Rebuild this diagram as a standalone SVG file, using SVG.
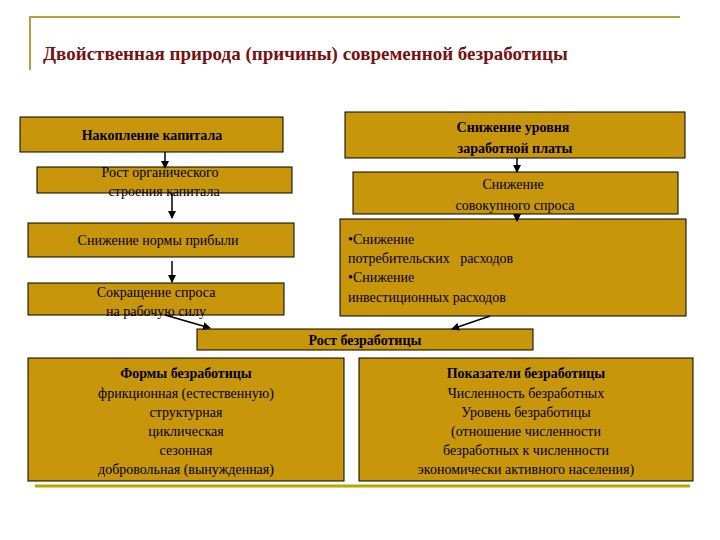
<svg xmlns="http://www.w3.org/2000/svg" width="720" height="540" viewBox="0 0 720 540">
<defs>
<style>
.b{fill:#C8960A;stroke:#000;stroke-width:1}
.t{font-family:"Liberation Serif",serif;font-size:14px;fill:#000;text-anchor:middle}
.tl{font-family:"Liberation Serif",serif;font-size:14px;fill:#000}
.bd{font-weight:bold}
.c{stroke:#000;stroke-width:1.5;fill:none;marker-end:url(#a)}
</style>
<marker id="a" markerWidth="8" markerHeight="8" refX="7" refY="4" orient="auto" markerUnits="userSpaceOnUse"><path d="M0,0L8,4L0,8Z" fill="#000"/></marker>
</defs>
<rect width="720" height="540" fill="#fff"/>
<path d="M30,70V17H680" stroke="#B8A040" stroke-width="2" fill="none"/>
<path d="M35,486H690" stroke="#B8A800" stroke-width="3" fill="none"/>
<text x="43" y="60" font-family="Liberation Serif,serif" font-size="19" font-weight="bold" fill="#7A1010">Двойственная природа (причины) современной безработицы</text>
<g id="n1"><rect class="b" x="20" y="117" width="263" height="35"/><text class="t bd" x="152" y="140">Накопление капитала</text></g>
<g id="n2"><rect class="b" x="345" y="112" width="340" height="46"/><text class="t bd" x="513" y="132">Снижение уровня</text><text class="t bd" x="515" y="153">заработной платы</text></g>
<g id="n3"><rect class="b" x="37" y="167" width="255" height="26"/><text class="t" x="160" y="177">Рост органического</text><text class="t" x="164" y="196">строения капитала</text></g>
<g id="n4"><rect class="b" x="353" y="172" width="325" height="42"/><text class="t" x="513" y="189">Снижение</text><text class="t" x="515" y="210">совокупного спроса</text></g>
<g id="n5"><rect class="b" x="28" y="223" width="266" height="34"/><text class="t" x="158" y="245">Снижение нормы прибыли</text></g>
<g id="n6"><rect class="b" x="340" y="219" width="346" height="97"/><text class="tl" x="348" y="244">•Снижение</text><text class="tl" x="348" y="263" xml:space="preserve">потребительских   расходов</text><text class="tl" x="348" y="282">•Снижение</text><text class="tl" x="348" y="302">инвестиционных расходов</text></g>
<g id="n7"><rect class="b" x="28" y="283" width="256" height="32"/><text class="t" x="156" y="297">Сокращение спроса</text><text class="t" x="156" y="316">на рабочую силу</text></g>
<g id="n8"><rect class="b" x="197" y="329" width="336" height="21"/><text class="t bd" x="365" y="345">Рост безработицы</text></g>
<g id="n9"><rect class="b" x="28" y="358" width="316" height="123"/><text class="t" x="186" y="378"><tspan class="bd">Формы безработицы</tspan></text><text class="t" x="186" y="398">фрикционная (естественную)</text><text class="t" x="186" y="417">структурная</text><text class="t" x="186" y="436">циклическая</text><text class="t" x="186" y="455">сезонная</text><text class="t" x="186" y="474">добровольная (вынужденная)</text></g>
<g id="n10"><rect class="b" x="359" y="358" width="334" height="123"/><text class="t bd" x="526" y="378">Показатели безработицы</text><text class="t" x="526" y="398">Численность безработных</text><text class="t" x="526" y="417">Уровень безработицы</text><text class="t" x="526" y="436">(отношение численности</text><text class="t" x="526" y="455">безработных к численности</text><text class="t" x="526" y="474">экономически активного населения)</text></g>
<g id="connectors">
<path class="c" d="M165,152V168"/>
<path class="c" d="M172,193V218"/>
<path class="c" d="M172,261V282"/>
<path class="c" d="M517,158V172"/>
<path class="c" d="M517,214V221"/>
<path class="c" d="M165,315L210,328"/>
<path class="c" d="M490,316L452,329"/>
</g>
</svg>
